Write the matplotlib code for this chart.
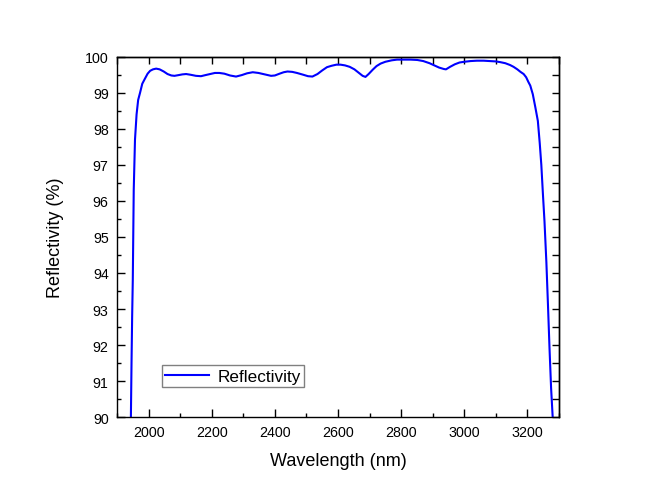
import matplotlib
matplotlib.use("Agg")
import matplotlib.pyplot as plt
from matplotlib.ticker import MultipleLocator

plt.rcParams['font.family'] = ['Liberation Sans', 'DejaVu Sans']

wavelength = [1942, 1944, 1946, 1948, 1950, 1953, 1957, 1962, 1967, 1973, 1980, 1989, 1997,
              2005, 2014, 2024, 2035, 2048, 2060, 2072, 2082, 2095, 2107, 2119, 2133,
              2150, 2166, 2180, 2195, 2210, 2224, 2240, 2258, 2277, 2295, 2312, 2330,
              2348, 2368, 2388, 2400, 2415, 2428, 2440, 2455, 2470, 2490, 2505, 2519,
              2535, 2550, 2565, 2580, 2595, 2608, 2622, 2637, 2652, 2665, 2678, 2687,
              2697, 2710, 2722, 2735, 2750, 2770, 2787, 2810, 2830, 2851, 2870, 2890,
              2905, 2920, 2935, 2942, 2955, 2970, 2985, 3000, 3020, 3040, 3061, 3080,
              3100, 3114, 3130, 3145, 3156, 3168, 3178, 3188, 3196, 3203, 3209, 3217,
              3225, 3233, 3239, 3244, 3249, 3254, 3260, 3265, 3270, 3275, 3280, 3282]
reflectivity = [89.0, 90.0, 91.5, 92.8, 93.8, 96.3, 97.7, 98.4, 98.8, 99.0, 99.25, 99.4, 99.53,
                99.61, 99.65, 99.67, 99.65, 99.59, 99.52, 99.48, 99.47, 99.49, 99.51, 99.52, 99.50,
                99.47, 99.46, 99.49, 99.52, 99.55, 99.55, 99.53, 99.48, 99.45, 99.49, 99.54, 99.57,
                99.55, 99.51, 99.47, 99.48, 99.53, 99.57, 99.59, 99.58, 99.55, 99.50, 99.46, 99.45,
                99.52, 99.62, 99.71, 99.75, 99.78, 99.78, 99.76, 99.72, 99.65, 99.56, 99.47, 99.44,
                99.52, 99.64, 99.74, 99.81, 99.86, 99.90, 99.92, 99.92, 99.92, 99.91, 99.88, 99.82,
                99.76, 99.70, 99.66, 99.65, 99.72, 99.79, 99.84, 99.86, 99.88, 99.89, 99.89, 99.88,
                99.87, 99.85, 99.82, 99.77, 99.72, 99.65, 99.58, 99.52, 99.43, 99.30, 99.20, 98.96,
                98.60, 98.22, 97.60, 97.00, 96.20, 95.44, 94.30, 93.13, 91.90, 90.80, 90.00, 89.0]

fig = plt.figure(figsize=(6.5, 5.02), dpi=100)
ax = fig.add_axes([0.18, 0.167, 0.68, 0.718])

ax.plot(wavelength, reflectivity, color='#0000FF', lw=1.5, label='Reflectivity')
ax.set_xlim(1900, 3300)
ax.set_ylim(90, 100)

ax.xaxis.set_major_locator(MultipleLocator(200))
ax.xaxis.set_minor_locator(MultipleLocator(100))
ax.yaxis.set_major_locator(MultipleLocator(1))
ax.yaxis.set_minor_locator(MultipleLocator(0.5))
ax.tick_params(which='major', direction='in', length=5.5, width=1, labelsize=10.3, pad=6)
ax.tick_params(which='minor', direction='in', length=3, width=1)

secx = ax.secondary_xaxis('top')
secx.xaxis.set_major_locator(MultipleLocator(100))
secx.tick_params(direction='in', length=5, width=1, labeltop=False)
secy = ax.secondary_yaxis('right')
secy.yaxis.set_major_locator(MultipleLocator(0.5))
secy.tick_params(direction='in', length=5, width=1, labelright=False)

for sp in list(ax.spines.values()):
    sp.set_linewidth(1.0)
secx.spines['top'].set_linewidth(1.0)
secy.spines['right'].set_linewidth(1.0)

ax.set_xlabel('Wavelength (nm)', fontsize=13, labelpad=9)
ax.set_ylabel('Reflectivity (%)', fontsize=13, labelpad=15)

leg = ax.legend(loc='lower left', bbox_to_anchor=(0.101, 0.083), borderaxespad=0,
                fontsize=12.3, fancybox=False, framealpha=1, edgecolor='#808080',
                borderpad=0.2, handlelength=2.6, handletextpad=0.45)
leg.get_frame().set_linewidth(1.0)

fig.savefig('out.png', dpi=100)
